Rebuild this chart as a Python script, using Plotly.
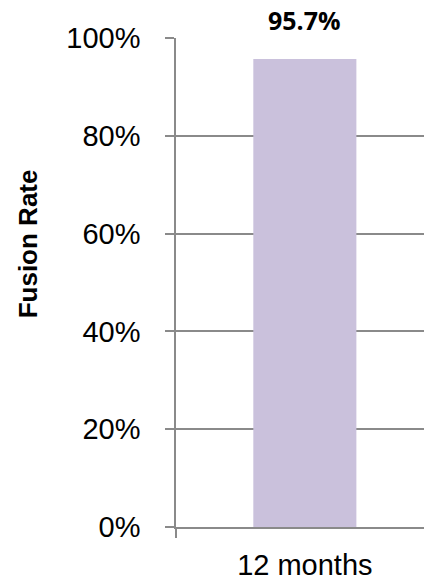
import plotly.graph_objects as go

categories = ["12 months"]
fusion_rate = [0.957]
value_labels = ["95.7%"]
y_ticks = [0, 0.2, 0.4, 0.6, 0.8, 1.0]
y_tick_labels = ["0%", "20%", "40%", "60%", "80%", "100%"]

GRAY = "#8a8a8a"
FONT = "Liberation Sans, Arial, sans-serif"

fig = go.Figure()
fig.add_trace(go.Bar(
    x=categories, y=fusion_rate, width=0.4,
    marker=dict(color="#CAC1DC", line=dict(width=0)),
    hoverinfo="skip",
))

for c, v, t in zip(categories, fusion_rate, value_labels):
    fig.add_annotation(
        x=c, y=v, text="<b>%s</b>" % t, showarrow=False,
        yanchor="bottom", yshift=20,
        font=dict(family="Open Sans, sans-serif", size=25, color="#000000"),
    )

fig.add_annotation(
    xref="paper", yref="paper", x=-0.597, y=0.58,
    text="<b>Fusion Rate</b>", textangle=-90, showarrow=False,
    xanchor="center", yanchor="middle",
    font=dict(family=FONT, size=26, color="#000000"),
)

fig.update_layout(
    width=424, height=580,
    margin=dict(l=176, r=0, t=38, b=53),
    paper_bgcolor="white", plot_bgcolor="white",
    showlegend=False,
    font=dict(family=FONT, color="#000000"),
    xaxis=dict(
        type="category", range=[-0.5, 0.4624],
        tickson="boundaries", ticks="outside", ticklen=9, tickwidth=1.5, tickcolor=GRAY,
        showline=True, linecolor=GRAY, linewidth=1.5,
        showgrid=False, zeroline=False,
        tickfont=dict(family=FONT, size=29, color="#000000"),
        ticklabelstandoff=11,
    ),
    yaxis=dict(
        range=[0, 1], tickvals=y_ticks, ticktext=y_tick_labels,
        ticks="outside", ticklen=9, tickwidth=1.5, tickcolor=GRAY,
        showline=True, linecolor=GRAY, linewidth=1.5,
        showgrid=True, gridcolor=GRAY, gridwidth=1.5,
        zeroline=False,
        tickfont=dict(family=FONT, size=29, color="#000000"),
        ticklabelstandoff=19,
    ),
)

fig.write_html("out.html")
